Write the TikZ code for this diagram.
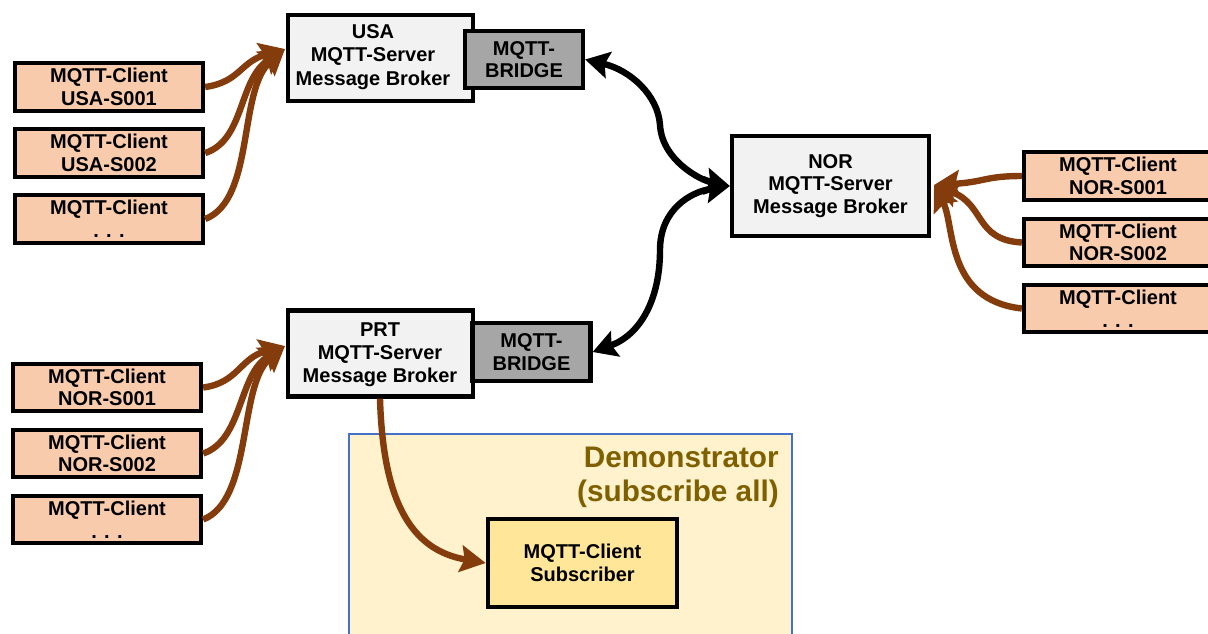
\documentclass[tikz,border=0pt]{standalone}
\usepackage{fontspec}
\setmainfont{Liberation Sans}
\usetikzlibrary{arrows.meta}
\definecolor{clientfill}{HTML}{F8CBAD}
\definecolor{serverfill}{HTML}{F2F2F2}
\definecolor{bridgefill}{HTML}{A6A6A6}
\definecolor{demofill}{HTML}{FFF2CC}
\definecolor{demoline}{HTML}{4472C4}
\definecolor{subfill}{HTML}{FFE699}
\definecolor{brown}{HTML}{843C0C}
\definecolor{demotext}{HTML}{7F6000}
\tikzset{
  box/.style={draw=black, line width=3.2pt, align=center, inner sep=0pt,
    font=\bfseries\fontsize{15}{17}\selectfont},
  client/.style={box, fill=clientfill, minimum width=141pt, minimum height=35.5pt},
  server/.style={box, fill=serverfill, minimum width=139pt, minimum height=64.5pt},
  bridge/.style={box, fill=bridgefill, minimum width=88.5pt, minimum height=43pt},
  subbox/.style={box, fill=subfill, minimum width=142pt, minimum height=66pt},
  lbl/.style={align=center, inner sep=0pt, font=\bfseries\fontsize{15}{17.4}\selectfont},
  feed/.style={draw=brown, line width=4.8pt,
    -{Stealth[length=19pt,width=20pt,inset=3pt]}},
  link/.style={draw=black, line width=4.8pt,
    {Stealth[length=18pt,width=20pt,inset=3pt]}-{Stealth[length=18pt,width=20pt,inset=3pt]}},
}
\begin{document}
\begin{tikzpicture}[x=0.75pt,y=-0.75pt]
\useasboundingbox (0,0) rectangle (1208,633);
% demonstrator area
\fill[demofill] (349,434) rectangle (792,645);
\draw[demoline, line width=1pt] (349,645) -- (349,434) -- (792,434) -- (792,645);
\node[anchor=north east, align=right, inner sep=0pt, text=demotext,
  font=\bfseries\fontsize{22.3}{25.5}\selectfont] (demo) at (779,447)
  {Demonstrator\\(subscribe all)};

% servers
\node[server] (usa) at (380.5,58) {};
\node[lbl] (usalbl) at (373,57) {USA\\MQTT-Server\\Message Broker};
\node[bridge] (usab) at (524,59.5) {MQTT-\\BRIDGE};

\node[server, minimum width=147.75pt, minimum height=75pt] (nor) at (830.5,186)
  {NOR\\MQTT-Server\\Message Broker};

\node[server] (prt) at (380.5,353.5) {};
\node[lbl] (prtlbl) at (380,355) {PRT\\MQTT-Server\\Message Broker};
\node[bridge] (prtb) at (531.5,352) {MQTT-\\BRIDGE};

\node[subbox] (sub) at (582.5,563) {MQTT-Client\\Subscriber};

% clients USA
\node[client] (u1) at (109,87) {MQTT-Client\\USA-S001};
\node[client] (u2) at (109,153) {MQTT-Client\\USA-S002};
\node[client] (u3) at (109,219) {MQTT-Client\\. . .};
% clients NOR
\node[client] (n1) at (1118,176) {MQTT-Client\\NOR-S001};
\node[client] (n2) at (1118,242.5) {MQTT-Client\\NOR-S002};
\node[client] (n3) at (1118,308.5) {MQTT-Client\\. . .};
% clients PRT
\node[client] (p1) at (107,387.5) {MQTT-Client\\NOR-S001};
\node[client] (p2) at (107,453.5) {MQTT-Client\\NOR-S002};
\node[client] (p3) at (107,519.5) {MQTT-Client\\. . .};

% target points
\coordinate (usain) at (285,49);
\coordinate (prtin) at (285,346);
\coordinate (norin) at (934,185);
\coordinate (usabend) at (660,125);
\coordinate (prtbend) at (660,250);

% USA feeds
\draw[feed] (u1.east) .. controls (240,82) and (240,62) .. (usain);
\draw[feed] (u2.east) .. controls (245,140) and (238,80) .. (usain);
\draw[feed] (u3.east) .. controls (255,200) and (238,90) .. (usain);
% PRT feeds
\draw[feed] (p1.east) .. controls (238,383) and (240,358) .. (prtin);
\draw[feed] (p2.east) .. controls (243,440) and (238,375) .. (prtin);
\draw[feed] (p3.east) .. controls (253,500) and (238,385) .. (prtin);
% NOR feeds
\draw[feed] (n1.west) .. controls (985,176) and (985,182) .. (norin);
\draw[feed] (n2.west) .. controls (975,240) and (985,205) .. (norin);
\draw[feed] (n3.west) .. controls (945,300) and (955,225) .. (norin);
% PRT to subscriber
\draw[feed] (prt.south -| 380,0) .. controls (383,500) and (410,550) .. (sub.west);

% bridge links
\draw[link] (usab.east) .. controls (630,70) and (658,95) .. (usabend)
  .. controls (662,160) and (700,180) .. (nor.west);
\draw[link] (prtb.east) .. controls (640,335) and (660,300) .. (prtbend)
  .. controls (660,210) and (690,192) .. (nor.west);
\end{tikzpicture}
\end{document}
